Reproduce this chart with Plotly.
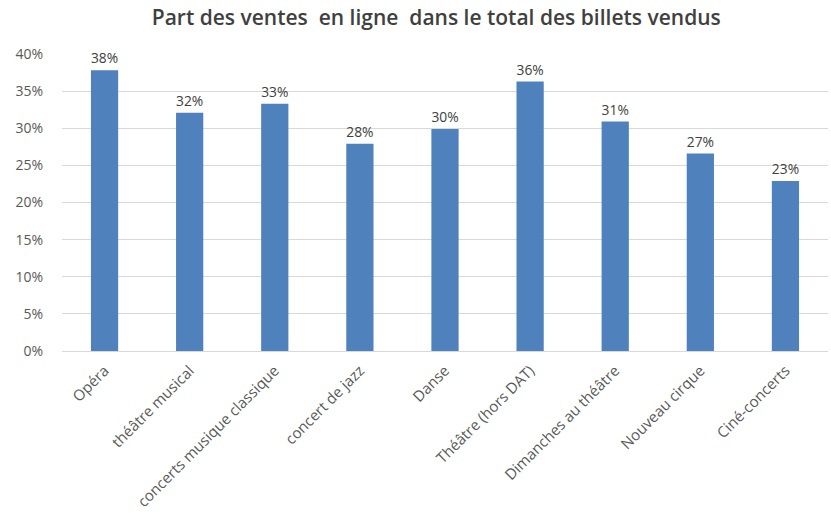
import plotly.graph_objects as go

categories = ["Opéra", "théâtre musical", "concerts musique classique", "concert de jazz",
              "Danse", "Théâtre (hors DAT)", "Dimanches au théâtre", "Nouveau cirque", "Ciné-concerts"]
values = [0.378, 0.321, 0.333, 0.279, 0.299, 0.363, 0.309, 0.266, 0.229]
value_labels = ["38%", "32%", "33%", "28%", "30%", "36%", "31%", "27%", "23%"]
y_ticks = [0, 0.05, 0.10, 0.15, 0.20, 0.25, 0.30, 0.35, 0.40]
y_tick_labels = ["0%", "5%", "10%", "15%", "20%", "25%", "30%", "35%", "40%"]

font_family = "Open Sans, Noto Sans, Liberation Sans, sans-serif"

fig = go.Figure(go.Bar(
    x=categories, y=values,
    marker=dict(color="#4f81bd", line=dict(width=0)),
    text=value_labels, textposition="outside",
    textfont=dict(size=14, color="#404040", family=font_family),
    cliponaxis=False,
    width=0.32,
))

fig.update_layout(
    width=831, height=513,
    margin=dict(l=62, r=3, t=54, b=162, autoexpand=False),
    paper_bgcolor="white", plot_bgcolor="white",
    title=dict(text="Part des ventes  en ligne  dans le total des billets vendus",
               x=0.525, xanchor="center", y=0.965, yanchor="middle",
               font=dict(size=21, color="#404040", family=font_family, weight=600)),
    showlegend=False,
    font=dict(family=font_family, color="#595959", size=14),
)
fig.update_xaxes(tickangle=-45, showgrid=False, showline=True, linecolor="#d9d9d9", linewidth=1,
                 ticks="", ticklabelstandoff=4, tickfont=dict(size=15, color="#595959"))
fig.update_yaxes(range=[0, 0.4], tickvals=y_ticks, ticktext=y_tick_labels, showgrid=True,
                 gridcolor="#d9d9d9", gridwidth=1, zeroline=False, showline=False, ticks="",
                 ticklabelstandoff=18, tickfont=dict(size=14, color="#595959"))

fig.write_html("out.html", config={"displayModeBar": False},
               post_script="document.body.style.margin='0';")
